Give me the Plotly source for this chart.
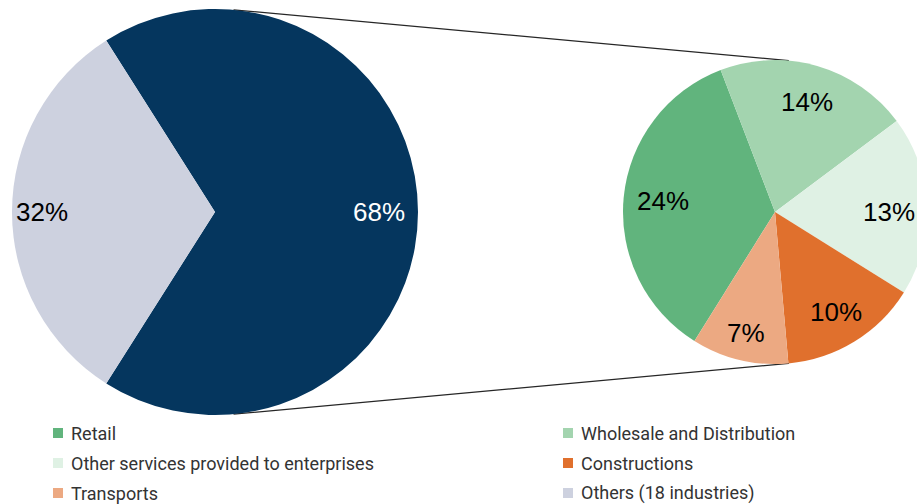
import math
import plotly.graph_objects as go

# ---------------- data ----------------
main_labels = ["Selected industries", "Others (18 industries)"]
main_values = [68, 32]

sub_labels = ["Retail", "Wholesale and Distribution",
              "Other services provided to enterprises", "Constructions", "Transports"]
sub_values = [24, 14, 13, 10, 7]

legend_labels = ["Retail", "Wholesale and Distribution",
                 "Other services provided to enterprises", "Constructions",
                 "Transports", "Others (18 industries)"]

# ---------------- style ----------------
main_colors = ["#05365E", "#CDD1DF"]
sub_colors = ["#61B47D", "#A3D4AF", "#DFF1E4", "#E0702D", "#ECA982"]
legend_colors = sub_colors + [main_colors[1]]
main_text_colors = ["#FFFFFF", "#000000"]
sub_text_colors = ["#000000"] * 5

W, H = 935, 504
big_c, big_r = (215.0, 212.0), 203.0
small_c, small_r = (775.0, 212.0), 152.0
big_rot = -32.4      # compass degrees, clockwise
small_rot = -148.0
big_lab_r = [0.81, 0.85]
small_lab_r = [0.74, 0.75, 0.75, 0.77, 0.82]
small_lab_nudge = [0, 0, 2.5, 0, 0]
label_font = dict(family="Liberation Sans, Arial, sans-serif", size=26)


def px_to_paper(x, y):
    return x / W, 1 - y / H


def domain(c, r):
    return dict(x=[(c[0] - r) / W, (c[0] + r) / W],
                y=[1 - (c[1] + r) / H, 1 - (c[1] - r) / H])


fig = go.Figure()
fig.add_trace(go.Pie(labels=main_labels, values=main_values, sort=False,
                     direction="clockwise", rotation=big_rot,
                     marker=dict(colors=main_colors, line=dict(width=0)),
                     textinfo="none", showlegend=False, domain=domain(big_c, big_r),
                     hoverinfo="label+percent"))
fig.add_trace(go.Pie(labels=sub_labels, values=sub_values, sort=False,
                     direction="clockwise", rotation=small_rot,
                     marker=dict(colors=sub_colors, line=dict(width=0)),
                     textinfo="none", showlegend=False, domain=domain(small_c, small_r),
                     hoverinfo="label+value"))

annotations = []
shapes = []


def slice_labels(values, rot, c, r, rfac, nudge, colors, total_pct):
    tot = sum(values)
    ang = rot
    for i, v in enumerate(values):
        span = 360.0 * v / tot
        mid = ang + span / 2 + nudge[i]
        rr = r * rfac[i]
        x = c[0] + rr * math.sin(math.radians(mid))
        y = c[1] - rr * math.cos(math.radians(mid))
        px, py = px_to_paper(x, y)
        pct = round(v / total_pct * 100)
        annotations.append(dict(x=px, y=py, xref="paper", yref="paper",
                                text=f"{pct}%", showarrow=False,
                                xanchor="center", yanchor="middle",
                                font=dict(color=colors[i], **label_font)))
        ang += span


grand_total = sum(main_values)
slice_labels(main_values, big_rot, big_c, big_r, big_lab_r, [0, 0],
             main_text_colors, grand_total)
slice_labels(sub_values, small_rot, small_c, small_r, small_lab_r, small_lab_nudge,
             sub_text_colors, grand_total)

# connector lines: common external tangents of both circles
d = small_c[0] - big_c[0]
cos_t = (big_r - small_r) / d
sin_t = math.sqrt(1 - cos_t ** 2)
for s in (1, -1):
    x0 = big_c[0] + big_r * cos_t
    y0 = big_c[1] - s * big_r * sin_t
    x1 = small_c[0] + small_r * cos_t
    y1 = small_c[1] - s * small_r * sin_t
    p0 = px_to_paper(x0, y0)
    p1 = px_to_paper(x1, y1)
    shapes.append(dict(type="line", xref="paper", yref="paper",
                       x0=p0[0], y0=p0[1], x1=p1[0], y1=p1[1],
                       line=dict(color="#262626", width=1.2), layer="below"))

# legend (2 columns, row-major)
col_x = [53, 563]
row_y = [433, 463, 493]
for i, (lab, col) in enumerate(zip(legend_labels, legend_colors)):
    cx = col_x[i % 2]
    cy = row_y[i // 2]
    a = px_to_paper(cx, cy - 5)
    b = px_to_paper(cx + 10, cy + 5)
    shapes.append(dict(type="rect", xref="paper", yref="paper",
                       x0=a[0], x1=b[0], y0=b[1], y1=a[1],
                       fillcolor=col, line=dict(width=0)))
    t = px_to_paper(cx + 16, cy)
    annotations.append(dict(x=t[0], y=t[1], xref="paper", yref="paper",
                            text=lab, showarrow=False, xanchor="left",
                            yanchor="middle",
                            font=dict(family="Roboto, sans-serif", size=18,
                                      color="#333333")))

fig.update_layout(width=W, height=H, margin=dict(l=0, r=0, t=0, b=0),
                  paper_bgcolor="white", plot_bgcolor="white",
                  annotations=annotations, shapes=shapes, showlegend=False)

fig.write_html("out.html")
